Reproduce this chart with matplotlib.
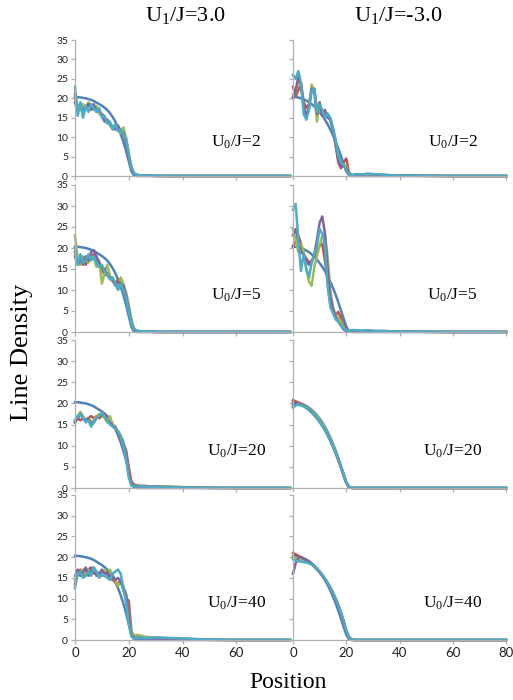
import matplotlib
matplotlib.use("Agg")
import matplotlib.pyplot as plt

plt.rcParams["mathtext.fontset"] = "custom"
plt.rcParams["mathtext.rm"] = "Liberation Serif"
plt.rcParams["mathtext.it"] = "Liberation Serif:italic"

# shared sample positions (site index)
position = [0, 1, 2, 3, 4, 5, 6, 7, 8, 9, 10, 11, 12, 13, 14, 15, 16, 17, 18, 19, 20,
            21, 22, 23, 24, 26, 28, 30, 35, 40, 50, 60, 80]

# Thomas-Fermi reference curves (dark blue)
tf_left = [20.3, 20.3, 20.2, 20.1, 20.0, 19.8, 19.6, 19.3, 18.9, 18.5, 18.1, 17.6, 17.0, 16.2,
           15.2, 14.0, 12.5, 10.8, 8.8, 6.5, 3.8, 1.2, 0.1, 0, 0, 0, 0, 0, 0, 0, 0, 0, 0]
tf_right = [20.3, 20.3, 20.2, 20.0, 19.7, 19.4, 19.0, 18.5, 17.9, 17.2, 16.4, 15.5, 14.5, 13.3,
            12.0, 10.5, 8.9, 7.1, 5.2, 3.2, 1.3, 0.2, 0, 0, 0, 0, 0, 0, 0, 0, 0, 0, 0]

# U1/J = 3.0, U0/J = 2
l2_red = [21.0, 17.5, 18.5, 17.0, 18.0, 18.5, 17.5, 18.0, 17.0, 16.5, 16.0, 15.0, 14.0, 13.5,
          12.5, 12.0, 12.5, 12.0, 11.5, 9.0, 5.0, 2.0, 0.6, 0.3, 0.2, 0.1, 0.1, 0.05, 0, 0, 0, 0, 0]
l2_green = [20.0, 18.0, 17.0, 18.5, 17.5, 19.0, 18.0, 17.0, 18.0, 16.0, 15.5, 15.0, 14.5, 13.0,
            12.0, 13.0, 12.0, 11.0, 12.5, 10.0, 6.0, 2.5, 0.8, 0.3, 0.2, 0.1, 0.1, 0.05, 0, 0, 0, 0, 0]
l2_purple = [19.0, 16.5, 18.0, 16.0, 17.5, 18.5, 17.0, 18.5, 16.5, 17.0, 15.5, 14.0, 14.5, 13.5,
             12.5, 12.0, 13.0, 11.5, 11.0, 8.5, 4.5, 1.8, 0.5, 0.2, 0.1, 0.1, 0.05, 0, 0, 0, 0, 0, 0]
l2_cyan = [23.0, 15.5, 19.0, 15.0, 18.0, 16.5, 18.5, 17.5, 16.5, 17.5, 15.0, 15.5, 13.5, 14.0,
           12.0, 13.5, 11.5, 12.0, 10.5, 9.5, 5.5, 2.2, 0.7, 0.3, 0.2, 0.1, 0.1, 0.05, 0.02, 0, 0, 0, 0]

# U1/J = 3.0, U0/J = 5
l5_red = [19.0, 17.0, 16.5, 17.5, 16.0, 17.5, 18.0, 18.5, 17.0, 16.0, 15.0, 13.5, 14.0, 13.0,
          12.0, 11.5, 12.5, 12.0, 10.5, 9.0, 6.0, 2.5, 0.7, 0.3, 0.2, 0.1, 0.05, 0.02, 0, 0, 0, 0, 0]
l5_green = [23.0, 17.5, 16.0, 18.0, 17.5, 16.5, 18.0, 17.5, 15.5, 17.0, 11.5, 14.0, 16.0, 13.5,
            12.0, 12.0, 11.0, 13.0, 11.5, 9.5, 6.5, 3.0, 0.8, 0.3, 0.2, 0.1, 0.05, 0.02, 0, 0, 0, 0, 0]
l5_purple = [18.0, 16.0, 17.5, 16.0, 18.0, 17.0, 19.0, 19.5, 18.0, 16.5, 15.5, 15.0, 13.5, 13.0,
             12.5, 11.0, 12.0, 11.5, 11.0, 8.5, 5.5, 2.0, 0.6, 0.2, 0.1, 0.1, 0.05, 0, 0, 0, 0, 0, 0]
l5_cyan = [20.0, 16.0, 18.5, 16.5, 17.0, 18.5, 17.0, 18.0, 16.5, 15.5, 16.0, 14.5, 13.5, 12.5,
           13.0, 11.5, 10.0, 11.5, 10.0, 8.0, 5.0, 2.0, 0.6, 0.3, 0.2, 0.15, 0.1, 0.05, 0.02, 0, 0, 0, 0]

# U1/J = 3.0, U0/J = 20
l20_red = [15.5, 16.5, 16.0, 16.5, 16.0, 16.5, 17.0, 16.5, 17.0, 16.5, 17.0, 17.5, 16.5, 15.5,
           15.0, 14.0, 13.0, 11.5, 10.5, 9.0, 5.0, 1.5, 0.8, 0.7, 0.5, 0.5, 0.4, 0.4, 0.3, 0.2, 0.05, 0, 0]
l20_green = [16.0, 17.0, 18.0, 17.0, 16.0, 16.5, 15.5, 16.0, 17.0, 17.5, 17.5, 16.5, 15.5, 17.0,
             15.0, 14.0, 13.5, 12.5, 11.0, 8.0, 3.5, 1.0, 0.5, 0.6, 0.5, 0.4, 0.4, 0.3, 0.3, 0.2, 0.05, 0, 0]
l20_purple = [15.5, 16.5, 17.5, 16.5, 16.0, 16.5, 15.0, 15.5, 16.5, 17.0, 17.5, 17.0, 16.0, 15.5,
              14.5, 14.5, 13.0, 12.0, 10.5, 8.0, 3.5, 0.8, 0.4, 0.5, 0.4, 0.4, 0.3, 0.3, 0.2, 0.1, 0.03, 0, 0]
l20_cyan = [16.0, 17.0, 17.5, 16.5, 15.5, 16.0, 14.5, 15.5, 16.5, 17.0, 17.8, 17.0, 16.0, 15.0,
            14.5, 14.0, 13.5, 12.0, 10.0, 7.0, 2.5, 0.5, 0.3, 0.4, 0.5, 0.3, 0.3, 0.2, 0.2, 0.1, 0.02, 0, 0]

# U1/J = 3.0, U0/J = 40
l40_red = [13.5, 16.0, 17.0, 15.5, 16.5, 17.0, 17.5, 16.0, 16.5, 16.0, 15.5, 16.5, 16.0, 15.0,
           14.5, 14.0, 13.5, 14.5, 12.0, 10.0, 9.5, 2.0, 1.0, 1.2, 0.8, 0.6, 0.6, 0.5, 0.4, 0.3, 0.05, 0, 0]
l40_green = [14.5, 15.5, 16.5, 17.0, 15.5, 17.0, 16.5, 17.5, 16.0, 15.5, 16.5, 17.0, 16.0, 17.0,
             15.5, 14.5, 13.0, 14.0, 13.0, 11.0, 6.0, 1.5, 1.2, 1.0, 1.2, 0.8, 0.7, 0.6, 0.4, 0.3, 0.05, 0, 0]
l40_purple = [15.5, 17.0, 15.5, 16.5, 17.5, 15.5, 17.0, 17.5, 15.5, 16.0, 17.0, 15.5, 16.5, 15.0,
              15.5, 14.5, 15.0, 14.0, 12.5, 11.0, 5.5, 1.0, 0.6, 0.5, 0.5, 0.4, 0.4, 0.4, 0.3, 0.2, 0.05, 0, 0]
l40_cyan = [12.5, 16.0, 16.5, 15.0, 15.5, 16.5, 15.5, 17.5, 16.5, 15.0, 16.0, 15.5, 15.0, 14.5,
            16.0, 16.5, 17.0, 16.0, 12.5, 9.0, 4.0, 0.8, 0.4, 0.5, 0.6, 0.5, 0.5, 0.6, 0.5, 0.4, 0.1, 0, 0]

# U1/J = -3.0, U0/J = 2
r2_red = [23.0, 20.5, 22.0, 24.0, 19.0, 17.5, 18.5, 22.0, 22.5, 17.0, 18.0, 16.5, 15.5, 16.0,
          14.5, 12.0, 8.0, 3.5, 2.0, 3.5, 4.5, 1.0, 0.2, 0.3, 0.4, 0.3, 0.5, 0.4, 0.2, 0.1, 0.05, 0, 0]
r2_green = [21.0, 21.5, 25.0, 23.0, 17.5, 15.0, 18.0, 23.5, 22.0, 14.0, 18.5, 16.0, 16.0, 15.5,
            14.5, 12.0, 9.0, 5.0, 3.0, 2.5, 2.5, 0.8, 0.2, 0.3, 0.4, 0.3, 0.4, 0.3, 0.2, 0.1, 0.05, 0, 0]
r2_purple = [20.0, 22.0, 25.5, 23.5, 18.0, 15.5, 17.5, 22.5, 22.0, 16.0, 19.0, 15.5, 17.0, 15.0,
             14.5, 12.0, 8.5, 4.5, 2.5, 2.5, 2.0, 0.6, 0.2, 0.3, 0.4, 0.3, 0.5, 0.4, 0.2, 0.1, 0.05, 0, 0]
r2_cyan = [26.0, 25.0, 27.0, 24.0, 16.0, 14.5, 17.0, 22.0, 22.5, 16.5, 18.5, 17.0, 15.0, 16.0,
           15.0, 12.5, 9.5, 5.5, 3.5, 3.0, 1.2, 0.5, 0.2, 0.3, 0.5, 0.4, 0.6, 0.5, 0.3, 0.1, 0.05, 0, 0]

# U1/J = -3.0, U0/J = 5
r5_red = [20.5, 21.5, 23.0, 21.0, 18.5, 17.5, 16.5, 17.0, 18.0, 19.5, 20.5, 21.0, 17.0, 12.0,
          8.0, 5.5, 4.0, 4.8, 3.5, 1.5, 0.4, 0.2, 0.2, 0.3, 0.3, 0.2, 0.3, 0.2, 0.2, 0.1, 0.05, 0, 0]
r5_green = [24.5, 22.0, 19.0, 21.0, 19.0, 15.0, 12.0, 11.0, 15.5, 18.0, 20.5, 23.0, 23.0, 18.0,
            10.0, 6.0, 4.0, 3.5, 2.5, 1.0, 0.3, 0.2, 0.2, 0.3, 0.3, 0.2, 0.3, 0.2, 0.2, 0.1, 0.05, 0, 0]
r5_purple = [23.0, 24.5, 22.0, 19.0, 18.5, 17.0, 16.0, 16.5, 18.5, 22.0, 26.0, 27.5, 23.5, 15.0,
             8.5, 5.5, 3.5, 2.5, 1.5, 0.6, 0.3, 0.2, 0.2, 0.3, 0.3, 0.2, 0.3, 0.2, 0.2, 0.1, 0.05, 0, 0]
r5_cyan = [29.0, 30.5, 22.0, 14.5, 18.5, 15.0, 13.0, 16.5, 18.5, 20.5, 24.5, 23.5, 20.5, 11.0,
           6.0, 4.5, 3.0, 2.5, 1.5, 0.8, 0.5, 0.3, 0.4, 0.5, 0.4, 0.3, 0.4, 0.3, 0.2, 0.1, 0.05, 0, 0]

# U1/J = -3.0, U0/J = 20
r20_red = [20.8, 20.5, 20.2, 19.9, 19.6, 19.1, 18.6, 18.0, 17.4, 16.6, 15.7, 14.8, 13.8, 12.6,
           11.3, 9.8, 8.3, 6.6, 4.8, 3.0, 1.2, 0.2, 0, 0, 0, 0, 0, 0, 0, 0, 0, 0, 0]
r20_green = [19.3, 19.8, 20.0, 19.8, 19.5, 19.2, 18.8, 18.3, 17.6, 16.9, 16.1, 15.2, 14.2, 13.0,
             11.7, 10.3, 8.7, 7.0, 5.2, 3.3, 1.4, 0.3, 0.05, 0, 0, 0, 0, 0, 0, 0, 0, 0, 0]
r20_purple = [19.6, 19.9, 19.9, 19.7, 19.4, 19.0, 18.5, 17.9, 17.2, 16.5, 15.7, 14.7, 13.7, 12.5,
              11.2, 9.8, 8.3, 6.7, 5.0, 3.1, 1.3, 0.2, 0, 0, 0, 0, 0, 0, 0, 0, 0, 0, 0]
r20_cyan = [19.0, 19.5, 19.7, 19.5, 19.3, 18.9, 18.4, 17.8, 17.2, 16.5, 15.6, 14.7, 13.7, 12.5,
            11.3, 9.9, 8.4, 6.8, 5.0, 3.2, 1.4, 0.3, 0.05, 0, 0, 0, 0, 0, 0, 0, 0, 0, 0]

# U1/J = -3.0, U0/J = 40
r40_red = [21.0, 20.7, 20.3, 20.0, 19.6, 19.2, 18.8, 18.3, 17.7, 17.0, 16.3, 15.5, 14.6, 13.6,
           12.5, 11.2, 9.8, 8.2, 6.5, 4.5, 2.2, 0.6, 0.1, 0, 0, 0, 0, 0, 0, 0, 0, 0, 0]
r40_green = [20.0, 19.8, 19.5, 19.3, 19.2, 19.0, 18.7, 18.4, 17.9, 17.3, 16.6, 15.8, 14.9, 13.9,
             12.8, 11.5, 10.1, 8.5, 6.7, 4.6, 2.3, 0.6, 0.1, 0, 0, 0, 0, 0, 0, 0, 0, 0, 0]
r40_purple = [16.0, 18.5, 19.8, 20.0, 19.6, 19.3, 18.9, 18.4, 17.8, 17.1, 16.4, 15.6, 14.7, 13.7,
              12.6, 11.3, 9.9, 8.3, 6.5, 4.5, 2.2, 0.8, 0.2, 0, 0, 0, 0, 0, 0, 0, 0, 0, 0]
r40_cyan = [19.5, 19.2, 19.0, 18.9, 18.8, 18.7, 18.5, 18.2, 17.8, 17.2, 16.5, 15.7, 14.8, 13.8,
            12.7, 11.4, 10.0, 8.4, 6.6, 4.6, 2.3, 0.7, 0.1, 0, 0, 0, 0, 0, 0, 0, 0, 0, 0]

u0_labels = ["2", "5", "20", "40"]
col_titles = ["U$_1$/J=3.0", "U$_1$/J=-3.0"]

left_col = [(l2_red, l2_green, l2_purple, l2_cyan),
            (l5_red, l5_green, l5_purple, l5_cyan),
            (l20_red, l20_green, l20_purple, l20_cyan),
            (l40_red, l40_green, l40_purple, l40_cyan)]
right_col = [(r2_red, r2_green, r2_purple, r2_cyan),
             (r5_red, r5_green, r5_purple, r5_cyan),
             (r20_red, r20_green, r20_purple, r20_cyan),
             (r40_red, r40_green, r40_purple, r40_cyan)]

tf_color = "#4F81BD"
series_colors = ["#C0504D", "#9BBB59", "#8064A2", "#4BACC6"]
spine_color = "#B0B0B0"
serif = ["Liberation Serif", "DejaVu Serif"]
sans = ["Lato", "DejaVu Sans"]

W, H = 513, 700
fig = plt.figure(figsize=(W / 100, H / 100), dpi=100)

# panel geometry in pixels: (y of value 0, y of value 35)
rows_px = [(176, 40), (332, 185), (488, 340), (640, 495)]
cols_px = [(75, 290), (293, 506)]

for r, (y0, y35) in enumerate(rows_px):
    for c, (x0, x1) in enumerate(cols_px):
        ax = fig.add_axes([x0 / W, 1 - y0 / H, (x1 - x0) / W, (y0 - y35) / H])
        tf = tf_left if c == 0 else tf_right
        curves = left_col[r] if c == 0 else right_col[r]
        ax.plot(position, tf, color=tf_color, lw=1.8, clip_on=False)
        for vals, col in zip(curves, series_colors):
            ax.plot(position, vals, color=col, lw=1.8, clip_on=False)
        ax.set_xlim(0, 80)
        ax.set_ylim(0, 35)
        ax.set_yticks(range(0, 36, 5))
        ax.set_xticks([0, 20, 40, 60] if c == 0 else [0, 20, 40, 60, 80])
        for s in ["top", "right"]:
            ax.spines[s].set_visible(False)
        for s in ["left", "bottom"]:
            ax.spines[s].set_color(spine_color)
            ax.spines[s].set_linewidth(0.9)
        ax.tick_params(color=spine_color, length=3, width=0.9, labelsize=7.5,
                       labelcolor="#222222", pad=2)
        if c == 1:
            ax.tick_params(axis="y", labelleft=False)
        else:
            for lab in ax.get_yticklabels():
                lab.set_family(sans)
        if r < 3:
            ax.tick_params(axis="x", labelbottom=False)
        else:
            for lab in ax.get_xticklabels():
                lab.set_family(sans)
                lab.set_fontsize(9.5)
        ax.text(0.75, 0.25, "U$_0$/J=" + u0_labels[r], transform=ax.transAxes,
                ha="center", va="center", fontsize=12.5, family=serif)

fig.text(185 / W, 1 - 15 / H, col_titles[0], ha="center", va="center",
         fontsize=16, family=serif)
fig.text(398 / W, 1 - 15 / H, col_titles[1], ha="center", va="center",
         fontsize=16, family=serif)
fig.text(22 / W, 1 - 352 / H, "Line Density", rotation=90, ha="center",
         va="center", fontsize=19, family=serif)
fig.text(288 / W, 1 - 682 / H, "Position", ha="center", va="center",
         fontsize=17, family=serif)

fig.savefig("out.png", dpi=100)
